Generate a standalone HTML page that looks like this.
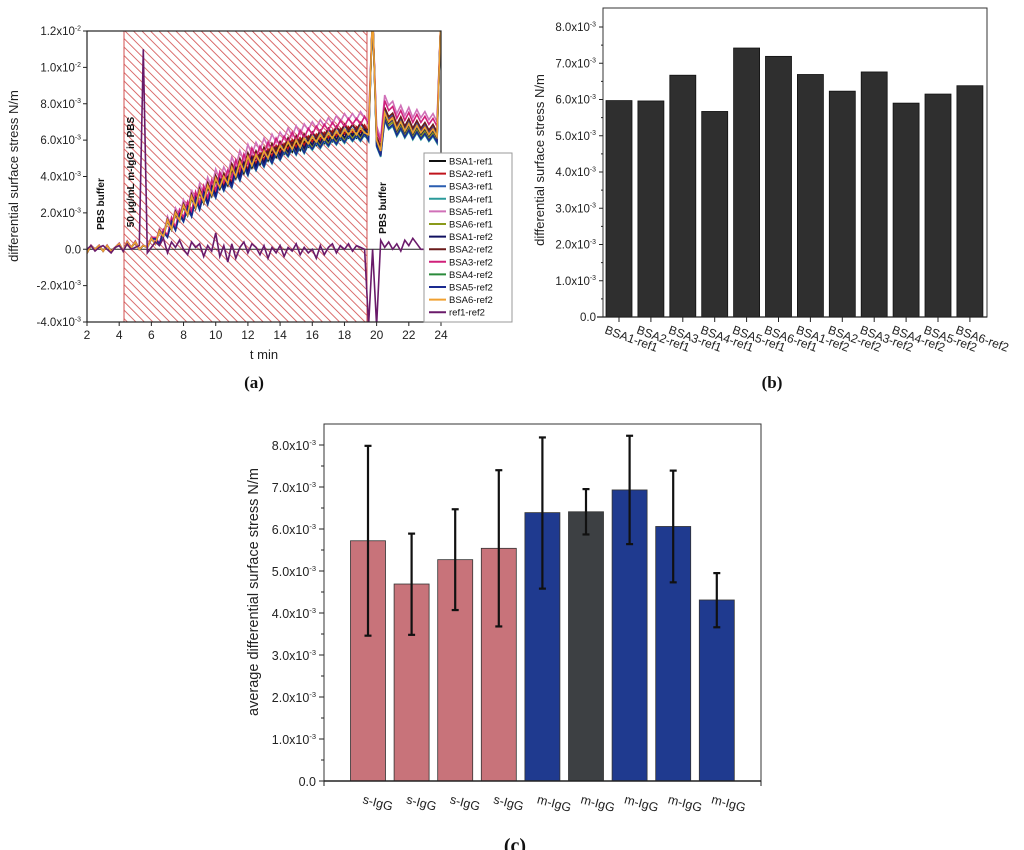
<!DOCTYPE html>
<html><head><meta charset="utf-8"><style>
html,body{margin:0;padding:0;background:#fff}
svg{display:block;font-family:"Liberation Sans",Arial,sans-serif}
</style></head><body>
<svg id="fig" width="1024" height="850" viewBox="0 0 1024 850" xmlns="http://www.w3.org/2000/svg">
<defs>
<pattern id="hatch" patternUnits="userSpaceOnUse" width="6" height="6" patternTransform="rotate(-45)">
<rect width="6" height="6" fill="#fff"/><line x1="0" y1="0" x2="0" y2="6" stroke="#d04848" stroke-width="1.6"/>
</pattern>
<clipPath id="clipA"><rect x="87" y="31" width="354" height="291"/></clipPath>
</defs>
<g id="gA"></g>
<g id="gB"></g>
<g id="gC"></g>
</svg>
<script>
// ---------- Panel (a) data (units 1e-3 N/m), t from 2 to 24 step 0.25 ----------
const aTimes = [];
for (let i = 0; i <= 88; i++) aTimes.push(2 + i * 0.25);
const aBase = [-0.2,0.2,0,0.2,-0.1,0.2,-0.1,0.1,0.3,-0.1,0.4,0.1,0.4,0,0.2,0.1,0.6,0.3,1.0,0.7,1.6,1.1,2.0,1.6,2.4,1.9,2.9,2.3,3.2,2.6,3.5,3.0,3.9,3.4,4.0,3.6,4.5,4.0,4.8,4.3,5.1,4.6,5.2,4.8,5.4,5.0,5.6,5.2,5.7,5.4,5.9,5.5,6.0,5.6,6.1,5.8,6.2,5.9,6.3,6.0,6.4,6.1,6.5,6.2,6.6,6.3,6.6,6.3,6.7,6.4,6.3,13,6.0,5.4,7.5,7.0,7.2,6.6,7.0,6.5,6.9,6.4,6.8,6.4,6.7,6.3,6.6,6.2,13];
const aSeriesNames = ["BSA1-ref1","BSA2-ref1","BSA3-ref1","BSA4-ref1","BSA5-ref1","BSA6-ref1","BSA1-ref2","BSA2-ref2","BSA3-ref2","BSA4-ref2","BSA5-ref2","BSA6-ref2"];
const aSeriesScale = [0.97,1.02,1.03,0.94,1.13,0.97,0.99,1.04,1.09,1.0,0.95,1.0];
const aSeriesShift = [0,1,0,1,0,1,1,0,1,0,1,0];
const aRefSeries = [0,0.2,-0.1,0.1,0.2,0,-0.2,0.1,0.2,-0.1,0.3,0,0.1,0.2,11,-0.2,0.1,0.4,0.2,0.6,-0.2,0.4,0.1,0.5,0,-0.3,0.4,0.1,0.3,-0.4,0.2,-0.1,0.9,-0.4,0.2,-0.7,0.3,-0.5,0.1,0.4,-0.2,0.3,0.1,-0.3,0.2,-0.5,0.1,-0.2,0.2,-0.4,0.1,-0.1,0.3,-0.3,0.1,-0.2,0,-0.5,0.2,-0.3,0.1,0.3,-0.2,0.2,0,0.3,-0.1,0.2,0.1,0,-4.2,0,-4.2,0.5,0.1,0.4,0,0.3,-0.1,0.5,0.2,0.6,0.3,0,0,0,0,0,0];
const aColors = ["#111","#c0141c","#2a5db0","#2a9a9a","#d070b8","#8a9a1a","#101060","#6a1a1a","#d0207a","#2a8a3a","#1a2a90","#f0a030"];
const aRefColor = "#6a1a6a";
const aXTicks = [2,4,6,8,10,12,14,16,18,20,22,24];
const aYTicks = [-4,-2,0,2,4,6,8,10,12];

// ---------- Panel (b) data ----------
const bCats = ["BSA1-ref1","BSA2-ref1","BSA3-ref1","BSA4-ref1","BSA5-ref1","BSA6-ref1","BSA1-ref2","BSA2-ref2","BSA3-ref2","BSA4-ref2","BSA5-ref2","BSA6-ref2"];
const bVals = [5.97,5.96,6.67,5.67,7.42,7.19,6.69,6.23,6.76,5.90,6.15,6.38];
const bYTicks = [0,1,2,3,4,5,6,7,8];

// ---------- Panel (c) data ----------
const cCats = ["s-IgG","s-IgG","s-IgG","s-IgG","m-IgG","m-IgG","m-IgG","m-IgG","m-IgG"];
const cVals = [5.72,4.69,5.27,5.54,6.39,6.41,6.93,6.06,4.31];
const cHigh = [7.98,5.89,6.47,7.40,8.18,6.95,8.22,7.39,4.95];
const cLow = [3.46,3.48,4.07,3.68,4.58,5.87,5.64,4.73,3.66];
const cColors = ["#c8737a","#c8737a","#c8737a","#c8737a","#1f3a8f","#3d4043","#1f3a8f","#1f3a8f","#1f3a8f"];
const cYTicks = [0,1,2,3,4,5,6,7,8];

const NS = "http://www.w3.org/2000/svg";
function mk(tag, attrs, parent, text) {
  const e = document.createElementNS(NS, tag);
  for (const k in attrs) e.setAttribute(k, attrs[k]);
  if (text !== undefined) e.textContent = text;
  parent.appendChild(e);
  return e;
}
function sciLabel(parent, x, y, v, size) {
  const t = mk("text", {x: x, y: y, "text-anchor": "end", "font-size": size, fill: "#222"}, parent);
  
  
  if (v === 0) { t.textContent = "0.0"; return t; }
  const ex = Math.abs(v) >= 10 ? -2 : -3;
  const m = v / Math.pow(10, ex + 3);
  mk("tspan", {}, t, m.toFixed(1) + "x10");
  mk("tspan", {dy: -size * 0.4, "font-size": size * 0.6}, t, String(ex));
  return t;
}

// ================= Panel A =================
(function () {
  const g = document.getElementById("gA");
  const L = 87, R = 441, T = 31, B = 322;
  const xS = t => L + (t - 2) / 22 * (R - L);
  const yS = v => B - (v + 4) / 16 * (B - T);
  const hatch = mk("rect", {x: xS(4.3), y: T, width: xS(19.4) - xS(4.3), height: B - T, fill: "url(#hatch)", stroke: "#d05050", "stroke-width": 1}, g);
  
  
  const zl = mk("line", {x1: L, x2: R, y1: yS(0), y2: yS(0), stroke: "#222", "stroke-width": 1}, g);
  
  
  const lines = mk("g", {"clip-path": "url(#clipA)"}, g);
  aSeriesNames.forEach((nm, i) => {
    let d = "";
    aTimes.forEach((t, j) => {
      const k = Math.min(aBase.length - 1, Math.max(0, j - (aSeriesShift[i] && j > 16 && j < 70 ? 1 : 0)));
      const v = aBase[k] > 12 ? aBase[k] : aBase[k] * aSeriesScale[i];
      d += (j ? "L" : "M") + xS(t).toFixed(1) + "," + yS(v).toFixed(1);
    });
    const p = mk("path", {d: d, fill: "none", stroke: aColors[i], "stroke-width": 1.6}, lines);
    
    
  });
  let d = "";
  aTimes.forEach((t, j) => { if (t <= 23) d += (j ? "L" : "M") + xS(t).toFixed(1) + "," + yS(aRefSeries[j]).toFixed(1); });
  const rp = mk("path", {d: d, fill: "none", stroke: aRefColor, "stroke-width": 1.6}, lines);
  
  
  const fr = mk("rect", {x: L, y: T, width: R - L, height: B - T, fill: "none", stroke: "#222", "stroke-width": 1.2}, g);
  
  
  aXTicks.forEach(t => {
    mk("line", {x1: xS(t), x2: xS(t), y1: B, y2: B + 4, stroke: "#222"}, g);
    const tl = mk("text", {x: xS(t), y: B + 17, "text-anchor": "middle", "font-size": 12, fill: "#222"}, g, String(t));
    
    
  });
  aYTicks.forEach(v => {
    mk("line", {x1: L - 4, x2: L, y1: yS(v), y2: yS(v), stroke: "#222"}, g);
    sciLabel(g, L - 6, yS(v) + 4, v, 11.5);
  });
  const xt = mk("text", {x: 264, y: 359, "text-anchor": "middle", "font-size": 13, fill: "#222"}, g, "t min");
  
  
  const yt = mk("text", {x: 0, y: 0, transform: "translate(18,176) rotate(-90)", "text-anchor": "middle", "font-size": 13, fill: "#222"}, g, "differential surface stress N/m");
  
  
  const a1 = mk("text", {transform: "translate(104,204) rotate(-90)", "text-anchor": "middle", "font-size": 10, "font-weight": "bold", fill: "#111"}, g, "PBS buffer");
  
  
  const a2 = mk("text", {transform: "translate(134,172) rotate(-90)", "text-anchor": "middle", "font-size": 10, "font-weight": "bold", fill: "#111"}, g, "50 μg/mL m-IgG in PBS");
  
  
  const a3 = mk("text", {transform: "translate(386,208) rotate(-90)", "text-anchor": "middle", "font-size": 10, "font-weight": "bold", fill: "#111"}, g, "PBS buffer");
  
  
  const lg = mk("g", {}, g);
  
  
  mk("rect", {x: 424, y: 153, width: 88, height: 169, fill: "#fff", stroke: "#999", "stroke-width": 1}, lg);
  const names = aSeriesNames.concat(["ref1-ref2"]);
  const cols = aColors.concat([aRefColor]);
  names.forEach((nm, i) => {
    const y = 161 + i * 12.6;
    const le = mk("g", {}, lg);
    
    
    mk("line", {x1: 429, x2: 446, y1: y, y2: y, stroke: cols[i], "stroke-width": 2}, le);
    mk("text", {x: 449, y: y + 3.5, "font-size": 9.5, fill: "#111"}, le, nm);
  });
  const cap = mk("text", {x: 254, y: 388, "text-anchor": "middle", "font-size": 17, "font-weight": "bold", "font-family": "Liberation Serif, serif", fill: "#111"}, g, "(a)");
  
  
})();

// ================= Panel B =================
(function () {
  const g = document.getElementById("gB");
  const L = 603, R = 987, T = 8, B = 317;
  const yS = v => B - v / 8 * (B - 27);
  const xC = i => 619 + i * 31.9;
  const fr = mk("rect", {x: L, y: T, width: R - L, height: B - T, fill: "none", stroke: "#333", "stroke-width": 1}, g);
  
  
  bVals.forEach((v, i) => {
    const r = mk("rect", {x: xC(i) - 13, y: yS(v), width: 26, height: B - yS(v), fill: "#2f2f2f", stroke: "#111", "stroke-width": 0.8}, g);
    
    
    mk("line", {x1: xC(i), x2: xC(i), y1: B, y2: B + 5, stroke: "#222"}, g);
    const tl = mk("text", {transform: "translate(" + (xC(i) - 15) + "," + (B + 16) + ") rotate(20)", "font-size": 12, fill: "#222"}, g, bCats[i]);
    
    
  });
  mk("line", {x1: L - 6, x2: R, y1: B, y2: B, stroke: "#222", "stroke-width": 1.2}, g);
  bYTicks.forEach(v => {
    mk("line", {x1: L - 4, x2: L, y1: yS(v), y2: yS(v), stroke: "#222"}, g);
    if (v < 8) mk("line", {x1: L - 2, x2: L, y1: yS(v + 0.5), y2: yS(v + 0.5), stroke: "#222"}, g);
    sciLabel(g, L - 7, yS(v) + 4, v, 11.5);
  });
  const yt = mk("text", {transform: "translate(544,160) rotate(-90)", "text-anchor": "middle", "font-size": 13, fill: "#222"}, g, "differential surface stress N/m");
  
  
  const cap = mk("text", {x: 772, y: 388, "text-anchor": "middle", "font-size": 17, "font-weight": "bold", "font-family": "Liberation Serif, serif", fill: "#111"}, g, "(b)");
  
  
})();

// ================= Panel C =================
(function () {
  const g = document.getElementById("gC");
  const L = 324, R = 761, T = 424, B = 781;
  const yS = v => B - v / 8 * (B - 445);
  const xC = i => 368 + i * 43.6;
  const fr = mk("rect", {x: L, y: T, width: R - L, height: B - T, fill: "none", stroke: "#333", "stroke-width": 1}, g);
  
  
  cVals.forEach((v, i) => {
    const r = mk("rect", {x: xC(i) - 17.5, y: yS(v), width: 35, height: B - yS(v), fill: cColors[i], stroke: "#333", "stroke-width": 0.8}, g);
    
    
    const eb = mk("g", {stroke: "#111", "stroke-width": 2.2}, g);
    
    
    mk("line", {x1: xC(i), x2: xC(i), y1: yS(cHigh[i]), y2: yS(cLow[i])}, eb);
    mk("line", {x1: xC(i) - 3.5, x2: xC(i) + 3.5, y1: yS(cHigh[i]), y2: yS(cHigh[i])}, eb);
    mk("line", {x1: xC(i) - 3.5, x2: xC(i) + 3.5, y1: yS(cLow[i]), y2: yS(cLow[i])}, eb);
    const tl = mk("text", {transform: "translate(" + (xC(i) - 6) + "," + (B + 22) + ") rotate(15)", "font-size": 12.5, fill: "#222"}, g, cCats[i]);
    
    
  });
  mk("line", {x1: L, x2: R, y1: B, y2: B, stroke: "#222", "stroke-width": 1.4}, g);
  mk("line", {x1: L, x2: L, y1: B, y2: B + 5, stroke: "#222"}, g);
  mk("line", {x1: R, x2: R, y1: B, y2: B + 5, stroke: "#222"}, g);
  cYTicks.forEach(v => {
    mk("line", {x1: L - 5, x2: L, y1: yS(v), y2: yS(v), stroke: "#222"}, g);
    if (v < 8) mk("line", {x1: L - 3, x2: L, y1: yS(v + 0.5), y2: yS(v + 0.5), stroke: "#222"}, g);
    sciLabel(g, L - 8, yS(v) + 5, v, 12.5);
  });
  const yt = mk("text", {transform: "translate(258,592) rotate(-90)", "text-anchor": "middle", "font-size": 14.5, fill: "#222"}, g, "average differential surface stress N/m");
  
  
  const cap = mk("text", {x: 515, y: 852, "text-anchor": "middle", "font-size": 20, "font-weight": "bold", "font-family": "Liberation Serif, serif", fill: "#111"}, g, "(c)");
  
  
})();
</script>
</body></html>
